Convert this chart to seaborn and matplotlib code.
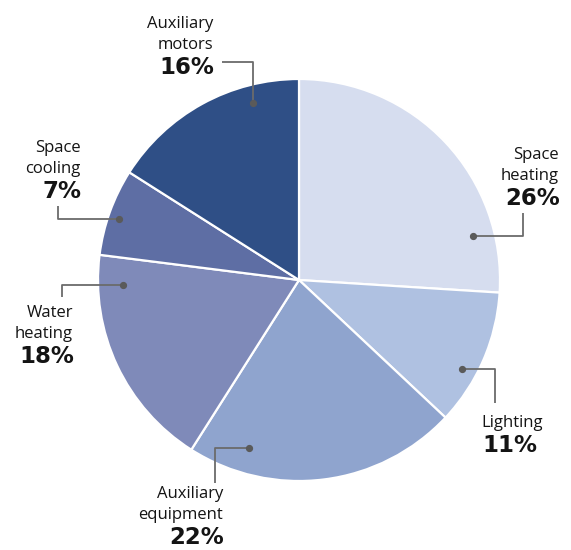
import matplotlib
matplotlib.use("Agg")
import matplotlib.pyplot as plt
import seaborn as sns

# Electricity end-use shares (%)
categories = ["Space\nheating", "Lighting", "Auxiliary\nequipment",
              "Water\nheating", "Space\ncooling", "Auxiliary\nmotors"]
shares = [26, 11, 22, 18, 7, 16]
colors = ["#d6ddef", "#afc1e1", "#8fa4ce", "#7f8ab9", "#5e6ea4", "#2f4f86"]

sns.set_theme(style="white")
plt.rcParams["font.family"] = ["Open Sans", "DejaVu Sans"]

W, H = 571, 550
fig = plt.figure(figsize=(W / 100, H / 100), dpi=100)
ax = fig.add_axes([0, 0, 1, 1])
ax.axis("off")

def py(y):
    return H - y

ax.pie(shares, colors=colors, startangle=90, counterclock=False,
       center=(299, py(280)), radius=201,
       wedgeprops=dict(edgecolor="white", linewidth=1.6))
ax.set_xlim(0, W)
ax.set_ylim(0, H)
ax.set_aspect("equal")

# Leader lines: dot -> elbow -> end
leaders = [
    [(473, 236), (523, 236), (523, 213)],
    [(462, 369), (495, 369), (495, 403)],
    [(249, 448), (215, 448), (215, 483)],
    [(123, 285), (62, 285), (62, 297)],
    [(119, 219), (58, 219), (58, 206)],
    [(253, 103), (253, 62), (222, 62)],
]
# Label anchor: x, baseline of first line, alignment
label_pos = [
    (559, 159, "right"),
    (481, 427, "left"),
    (223, 498, "right"),
    (73, 317, "right"),
    (81, 152, "right"),
    (213, 28, "right"),
]

line_col = "#6b6b6b"
text_col = "#141414"
for (cat, val, pts, (lx, ly, ha)) in zip(categories, shares, leaders, label_pos):
    xs = [p[0] for p in pts]
    ys = [py(p[1]) for p in pts]
    ax.plot(xs, ys, color=line_col, lw=1.3, solid_capstyle="butt", zorder=3)
    ax.plot(xs[0], ys[0], "o", color="#5a5a5a", ms=4.2, zorder=4)
    lines = cat.split("\n")
    for i, line in enumerate(lines):
        ax.text(lx, py(ly + 21 * i), line, ha=ha, va="baseline",
                fontsize=12, color=text_col, zorder=5)
    last = ly + 21 * (len(lines) - 1)
    ax.text(lx + 1, py(last + 25), f"{val}%",
            ha=ha, va="baseline", fontsize=16.5, fontweight="bold",
            family="DejaVu Sans", color=text_col, zorder=5)

fig.savefig("out.png", dpi=100)
